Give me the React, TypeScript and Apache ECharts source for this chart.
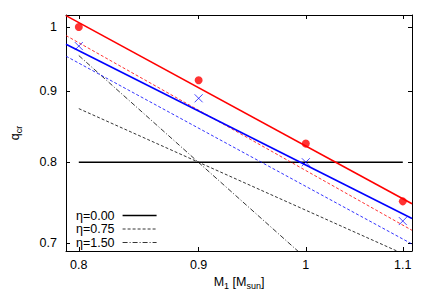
import React, { useEffect, useRef } from 'react';
import * as echarts from 'echarts';

// Axis ticks (log-log axes)
const massTicks = [0.8, 0.9, 1, 1.1];
const massTickLabels = ['0.8', '0.9', '1', '1.1'];
const qTicks = [0.7, 0.8, 0.9, 1];
const qTickLabels = ['0.7', '0.8', '0.9', '1'];
const massRange = [0.79, 1.11];
const qRange = [0.691, 1.02];

// Measured points
const pointMasses = [0.8, 0.9, 1.0, 1.1];
const redDots = [1.0, 0.916, 0.825, 0.75];
const blueCrosses = [0.969, 0.889, 0.8, 0.726];

// Fitted lines (straight in log-log), values at the plot edges
const fitMasses = [0.79, 1.11];
const redSolid = [1.019, 0.747];
const redDashed = [0.986, 0.715];
const blueSolid = [0.972, 0.729];
const blueDashed = [0.953, 0.699];

// eta lines
const etaMasses = [0.8, 1.1];
const etaLabels = ['η=0.00', 'η=0.75', 'η=1.50'];
const eta000 = [0.8, 0.8];
const eta075 = [0.874, 0.688];
const eta150 = [0.954, 0.592];

const FONT = '"Liberation Sans", Arial, Helvetica, sans-serif';
const FS = 12.5;
const L = (v: number) => Math.log10(v);

const pairs = (xs: number[], ys: number[]) => xs.map((x, i) => [L(x), L(ys[i])]);

const fmt = (ticks: number[], labels: string[]) => (v: number) => {
  const i = ticks.findIndex((t) => Math.abs(L(t) - v) < 1e-6);
  return i >= 0 ? labels[i] : '';
};

const rich = {
  n: { fontSize: FS, fontFamily: FONT, color: '#000' },
  s: { fontSize: 9, fontFamily: FONT, color: '#000', padding: [8, 0, 0, 0] },
};

export default function App() {
  const ref = useRef<HTMLDivElement>(null);
  useEffect(() => {
    if (!ref.current) return;
    const chart = echarts.init(ref.current, undefined, { renderer: 'svg' });
    const axisLine = { show: true, onZero: false, lineStyle: { color: '#000', width: 1 } };
    const xTickVals = massTicks.map(L);
    const yTickVals = qTicks.map(L);
    const lineSeries = (name: string, xs: number[], ys: number[], color: string, width: number, type: any, z = 2) => ({
      name,
      type: 'line',
      data: pairs(xs, ys),
      symbol: 'none',
      showSymbol: false,
      clip: true,
      silent: true,
      z,
      lineStyle: { color, width, type },
      itemStyle: { color, opacity: 0 },
      emphasis: { disabled: true },
    });
    chart.setOption({
      animation: false,
      backgroundColor: '#fff',
      grid: { left: 62, right: 24, top: 15, bottom: 54, containLabel: false },
      legend: {
        data: etaLabels,
        orient: 'vertical',
        left: 76,
        top: 209,
        align: 'right',
        itemWidth: 34,
        itemHeight: 12,
        itemGap: 0.5,
        padding: 0,
        selectedMode: false,
        itemStyle: { opacity: 0 },
        lineStyle: { width: 'inherit' },
        textStyle: { fontSize: FS, fontFamily: FONT, color: '#000', padding: [0, 3, 0, 0] },
      },
      xAxis: [
        {
          type: 'value',
          position: 'bottom',
          min: L(massRange[0]),
          max: L(massRange[1]),
          axisLine,
          axisTick: { show: true, inside: true, length: 4, customValues: xTickVals, lineStyle: { color: '#000' } },
          axisLabel: {
            customValues: xTickVals,
            formatter: fmt(massTicks, massTickLabels),
            margin: 7,
            fontSize: FS,
            fontFamily: FONT,
            color: '#000',
          },
          splitLine: { show: false },
          name: '{n|M}{s|1}{n| [M}{s|sun}{n|]}',
          nameLocation: 'middle',
          nameGap: 21,
          nameTextStyle: { rich },
        },
        {
          type: 'value',
          position: 'top',
          min: L(massRange[0]),
          max: L(massRange[1]),
          axisLine,
          axisTick: { show: true, inside: true, length: 4, customValues: xTickVals, lineStyle: { color: '#000' } },
          axisLabel: { show: false },
          splitLine: { show: false },
        },
      ],
      yAxis: [
        {
          type: 'value',
          position: 'left',
          min: L(qRange[0]),
          max: L(qRange[1]),
          axisLine,
          axisTick: { show: true, inside: true, length: 4, customValues: yTickVals, lineStyle: { color: '#000' } },
          axisLabel: {
            customValues: yTickVals,
            formatter: fmt(qTicks, qTickLabels),
            margin: 9,
            fontSize: FS,
            fontFamily: FONT,
            color: '#000',
          },
          splitLine: { show: false },
          name: '{n|q}{s|cr}',
          nameLocation: 'middle',
          nameRotate: 90,
          nameGap: 43,
          nameTextStyle: { rich },
        },
        {
          type: 'value',
          position: 'right',
          min: L(qRange[0]),
          max: L(qRange[1]),
          axisLine,
          axisTick: { show: true, inside: true, length: 4, customValues: yTickVals, lineStyle: { color: '#000' } },
          axisLabel: { show: false },
          splitLine: { show: false },
        },
      ],
      series: [
        lineSeries(etaLabels[0], etaMasses, eta000, '#000', 1.6, 'solid'),
        lineSeries(etaLabels[1], etaMasses, eta075, '#000', 0.8, [3, 2]),
        lineSeries(etaLabels[2], etaMasses, eta150, '#000', 0.8, [5, 2, 1, 2]),
        lineSeries('blueDashed', fitMasses, blueDashed, '#0000ff', 0.8, [3, 2]),
        lineSeries('redDashed', fitMasses, redDashed, '#ff0000', 0.8, [3, 2]),
        lineSeries('blueSolid', fitMasses, blueSolid, '#0000ff', 1.6, 'solid', 3),
        lineSeries('redSolid', fitMasses, redSolid, '#ff0000', 1.6, 'solid', 3),
        {
          name: 'redDots',
          type: 'scatter',
          data: pairs(pointMasses, redDots),
          symbol: 'circle',
          symbolSize: 8,
          silent: true,
          z: 4,
          itemStyle: { color: '#ff0000' },
          emphasis: { disabled: true },
        },
        {
          name: 'blueCrosses',
          type: 'scatter',
          data: pairs(pointMasses, blueCrosses),
          symbol: 'path://M0,0L10,10M10,0L0,10',
          symbolSize: 8,
          silent: true,
          z: 4,
          itemStyle: { color: 'none', borderColor: '#0000ff', borderWidth: 0.9 },
          emphasis: { disabled: true },
        },
      ],
    });
    return () => chart.dispose();
  }, []);
  return <div ref={ref} style={{ position: 'fixed', left: 0, top: 0, width: 436, height: 305 }} />;
}
